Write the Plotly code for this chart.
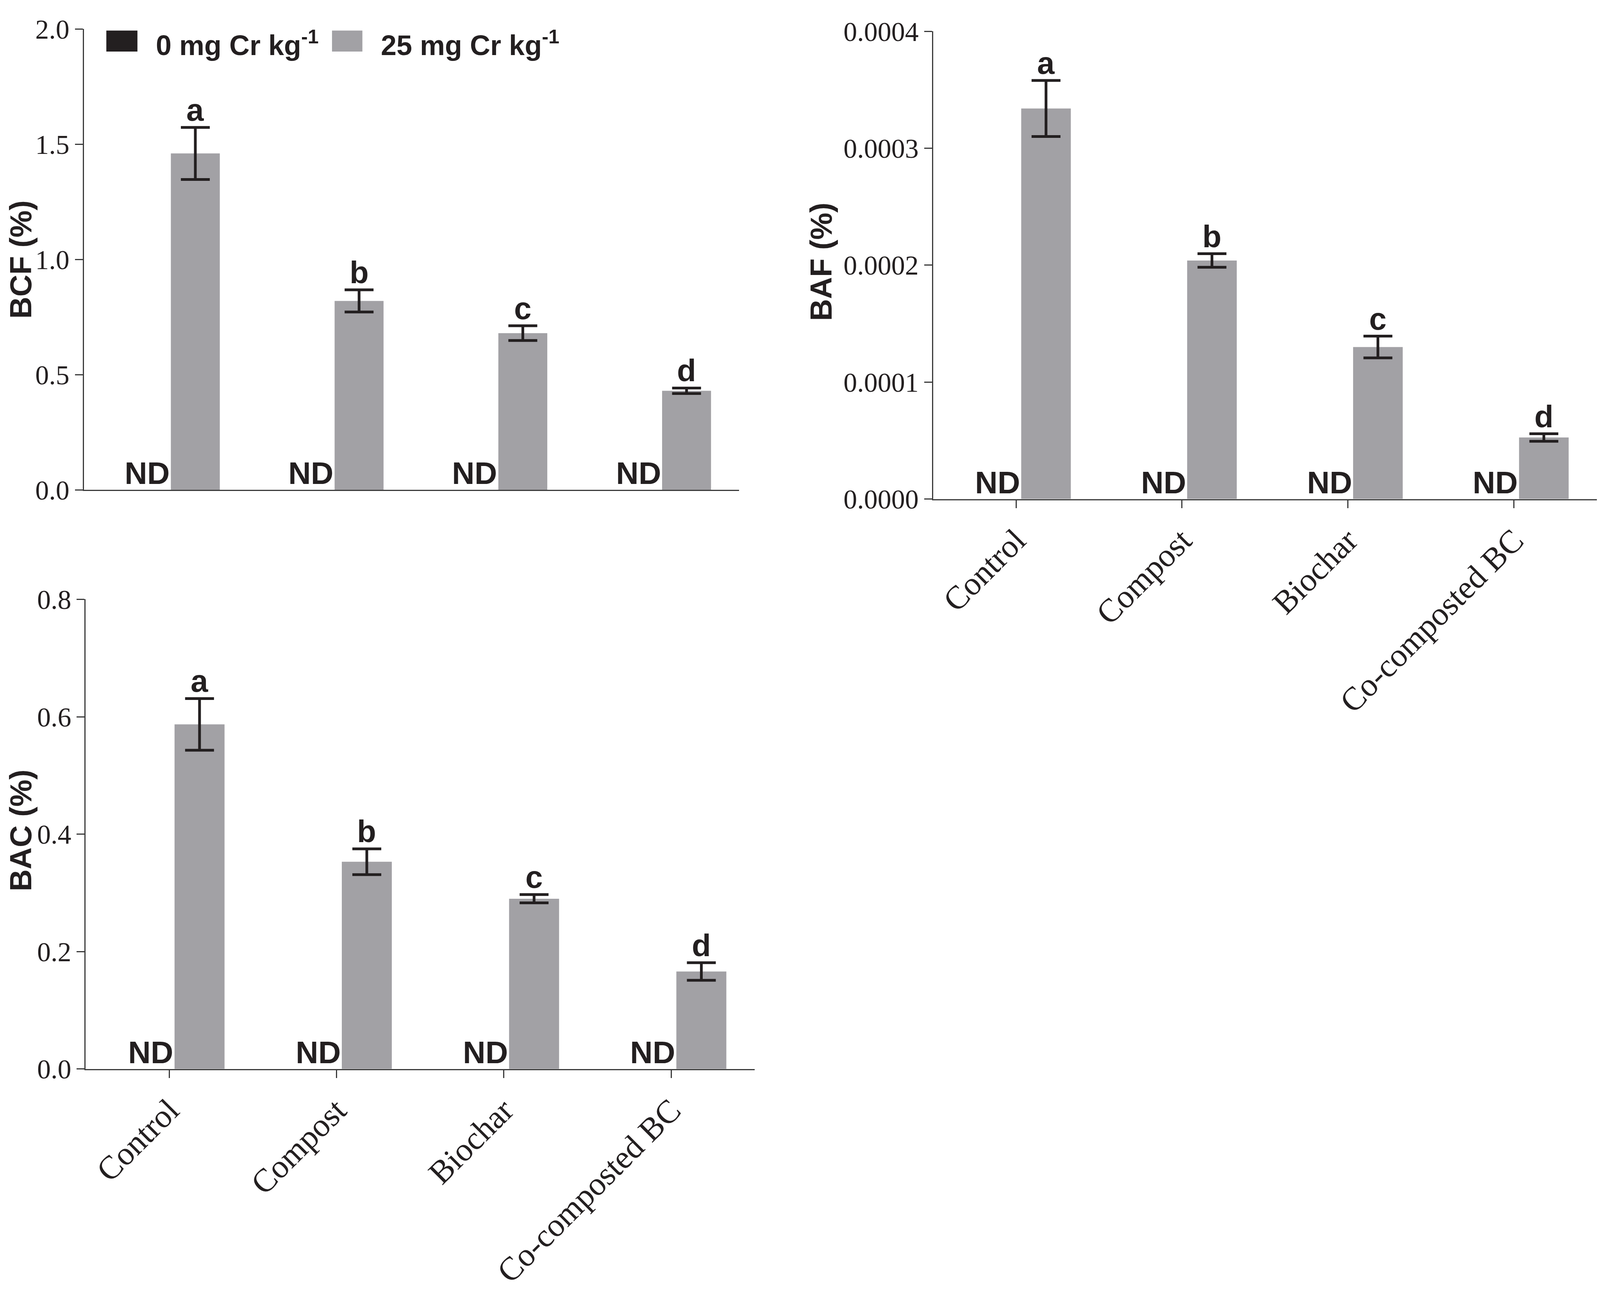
import plotly.graph_objects as go

# treatments on the x axis
treatments = ["Control", "Compost", "Biochar", "Co-composted BC"]
letters = ["a", "b", "c", "d"]

# 0 mg Cr kg-1 was not detected (ND) -> zero bars
bcf_0mg = [0, 0, 0, 0]
bcf_25mg = [1.46, 0.82, 0.68, 0.43]
bcf_err = [0.113, 0.048, 0.032, 0.012]

baf_0mg = [0, 0, 0, 0]
baf_25mg = [0.000334, 0.000204, 0.000130, 0.0000526]
baf_err = [0.000024, 0.0000058, 0.0000093, 0.0000032]

bac_0mg = [0, 0, 0, 0]
bac_25mg = [0.587, 0.353, 0.290, 0.166]
bac_err = [0.044, 0.022, 0.007, 0.015]

# the page is shown in a 4096 px wide view with the default 8 px body margin,
# so the figure is sized to fit and positions are mapped from the 4424 x 3359 layout
REF_W, REF_H = 4424, 3359
VIEW_W = 4096
MARGIN = 8
W, H = VIEW_W - 2 * MARGIN, REF_H - 2 * MARGIN
KX = VIEW_W / REF_W


def px(rx):
    return min(max((rx * KX - MARGIN) / W, 0.0), 1.0)


def py(ry):
    return min(max(1 - (ry - MARGIN) / H, 0.0), 1.0)


black = "#231f20"
grey = "#a2a1a5"
axcol = "#3a3a3a"
serif = "Liberation Serif"
sans = "Liberation Sans"

xpos = list(range(len(treatments)))

fig = go.Figure()

panels = [
    ("x", "y", bcf_0mg, bcf_25mg, bcf_err),
    ("x2", "y2", baf_0mg, baf_25mg, baf_err),
    ("x3", "y3", bac_0mg, bac_25mg, bac_err),
]

for xa, ya, zeros, vals, err in panels:
    fig.add_trace(go.Bar(x=xpos, y=zeros, xaxis=xa, yaxis=ya, name="0 mg Cr kg-1",
                         marker=dict(color=black, line=dict(width=0)), showlegend=False))
    fig.add_trace(go.Bar(x=xpos, y=vals, xaxis=xa, yaxis=ya, name="25 mg Cr kg-1",
                         marker=dict(color=grey, line=dict(width=0)), showlegend=False,
                         error_y=dict(type="data", array=err, color=black, thickness=7, width=37)))

annotations = []
for xa, ya, zeros, vals, err in panels:
    for i in xpos:
        # ND label in place of the (zero) 0 mg bar
        annotations.append(dict(x=i + 0.03, y=0, xref=xa, yref=ya, text="<b>ND</b>",
                                xanchor="right", yanchor="bottom", showarrow=False, yshift=-4,
                                font=dict(family=sans, size=80, color=black)))
        # significance letter above the error bar
        annotations.append(dict(x=i + 0.18, y=vals[i] + err[i], xref=xa, yref=ya,
                                text="<b>%s</b>" % letters[i], xanchor="center", yanchor="bottom",
                                showarrow=False, yshift=-2,
                                font=dict(family=sans, size=80, color=black)))

# y axis titles
for rx, ry, title in [(58, 641, "BCF (%)"), (2270, 647, "BAF (%)"), (58, 2138, "BAC (%)")]:
    annotations.append(dict(x=px(rx), y=py(ry), xref="paper", yref="paper",
                            text="<b>%s</b>" % title, textangle=-90, showarrow=False,
                            xanchor="center", yanchor="middle",
                            font=dict(family=sans, size=78, color=black)))

# legend drawn by hand so the keys keep their size
shapes = []
for x0, x1, col, tx, label in [(294, 380, black, 429, "0 mg Cr kg<sup>-1</sup>"),
                               (918, 1002, grey, 1051, "25 mg Cr kg<sup>-1</sup>")]:
    shapes.append(dict(type="rect", xref="paper", yref="paper", x0=px(x0), x1=px(x1),
                       y0=py(96), y1=py(41), fillcolor=col, line=dict(width=0)))
    annotations.append(dict(x=px(tx), y=py(74), xref="paper", yref="paper",
                            text="<b>%s</b>" % label, showarrow=False,
                            xanchor="left", yanchor="middle",
                            font=dict(family=sans, size=72, color=black)))

axis_common = dict(showline=True, linecolor=axcol, linewidth=3, showgrid=False,
                   zeroline=False, ticks="outside", ticklen=20, tickwidth=3, tickcolor=axcol,
                   tickfont=dict(family=serif, size=70, color=black))

xcommon = dict(axis_common, range=[-0.5, 3.5], tickmode="array", tickvals=xpos,
               ticktext=treatments, tickangle=-45, tickfont=dict(family=serif, size=84, color=black))

fig.update_layout(
    width=W, height=H,
    margin=dict(l=0, r=0, t=0, b=0),
    paper_bgcolor="white", plot_bgcolor="white",
    barmode="group", bargap=0.278, bargroupgap=0.172,
    showlegend=False,
    xaxis=dict(xcommon, domain=[px(232), px(2043)], anchor="y", ticks="", showticklabels=False),
    yaxis=dict(axis_common, domain=[py(1245), py(37)], anchor="x", range=[0, 2.0],
               dtick=0.5, tickformat=".1f"),
    xaxis2=dict(xcommon, domain=[px(2580), 1.0], anchor="y2"),
    yaxis2=dict(axis_common, domain=[py(1269), py(43)], anchor="x2", range=[0, 0.0004],
                dtick=0.0001, tickformat=".4f"),
    xaxis3=dict(xcommon, domain=[px(237), px(2087)], anchor="y3"),
    yaxis3=dict(axis_common, domain=[py(2763), py(1532)], anchor="x3", range=[0, 0.8],
                dtick=0.2, tickformat=".1f"),
    annotations=annotations,
    shapes=shapes,
)

fig.write_html("out.html")
